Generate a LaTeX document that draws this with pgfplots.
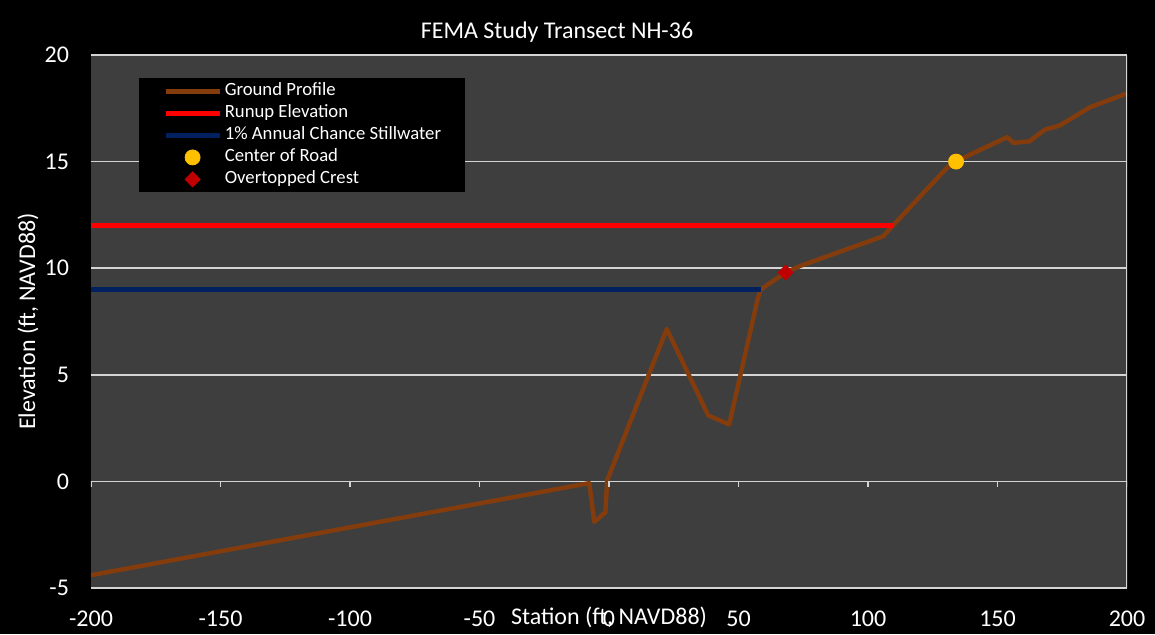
\documentclass[border=0pt]{standalone}
\usepackage{pgfplots}
\pgfplotsset{compat=1.18}
\usepackage{fontspec}
\setmainfont{Carlito}
\definecolor{ground}{HTML}{843C0C}
\definecolor{runup}{HTML}{FF0000}
\definecolor{still}{HTML}{002060}
\definecolor{road}{HTML}{FFC000}
\definecolor{crest}{HTML}{C00000}
\definecolor{plotbg}{HTML}{3E3E3E}
\definecolor{gridc}{HTML}{D4D4D4}
\begin{document}
\begin{tikzpicture}
\fill[black] (-45.5pt,-23pt) rectangle (532pt,294pt);
\begin{axis}[
  at={(0pt,0pt)}, anchor=south west,
  scale only axis, width=518pt, height=266.5pt,
  xmin=-200, xmax=200, ymin=-5, ymax=20,
  xtick={-200,-150,...,200}, ytick={-5,0,...,20},
  axis line style={draw=none},
  tick style={draw=none},
  axis background/.style={fill=plotbg},
  ymajorgrids, grid style={gridc, line width=0.75pt},
  /pgf/number format/assume math mode=true,
  ticklabel style={font=\fontsize{12}{14}\selectfont, text=white},
  xticklabel style={yshift=-8pt},
  yticklabel style={xshift=-7.5pt},
  title={FEMA Study Transect NH-36},
  title style={font=\fontsize{12}{14}\selectfont, text=white, at={(0.5,1)}, anchor=south, inner sep=0pt, xshift=-26pt},
  xlabel={Station (ft, NAVD88)},
  xlabel style={font=\fontsize{12}{14}\selectfont, text=white, at={(axis description cs:0.5,0)}, anchor=center, yshift=-14.5pt},
  ylabel={Elevation (ft, NAVD88)},
  ylabel style={font=\fontsize{12}{14}\selectfont, text=white, at={(axis description cs:0,0.5)}, anchor=center, yshift=31.5pt},
  legend style={at={(rel axis cs:0,1)}, anchor=north west, xshift=24pt, yshift=-11.5pt,
    fill=black, draw=none, text=white, font=\fontsize{9.35}{11}\selectfont,
    inner xsep=12pt, inner ysep=1pt,
    nodes={inner sep=0pt, text height=7.5pt, text depth=3.5pt},
    /tikz/every odd column/.append style={column sep=1.5pt}},
  legend cell align=left,
  legend image code/.code={\draw[mark repeat=2,mark phase=2,#1] plot coordinates {(0pt,0pt) (13.5pt,0pt) (27pt,0pt)};},
]
\addplot[ground, line width=2.2pt, line join=round] coordinates {
(-200,-4.4) (-7.6,-0.08) (-5.7,-1.9) (-1.4,-1.45) (-0.7,0.05) (22.3,7.15)
(38.3,3.1) (46.4,2.67) (57.3,8.5) (58.5,9.0) (68.2,9.8) (73.7,10.1)
(105.9,11.5) (109.6,12.0) (130.4,14.7) (134,15.0) (140.7,15.4) (153.8,16.15)
(156.1,15.88) (162.3,15.95) (168.3,16.5) (174.1,16.7) (185.7,17.55) (200,18.2)
};
\addlegendentry{Ground Profile}
\addplot[runup, line width=2.2pt] coordinates {(-200,12) (109.6,12)};
\addlegendentry{Runup Elevation}
\addplot[still, line width=2.2pt] coordinates {(-200,9) (58.8,9)};
\addlegendentry{1\% Annual Chance Stillwater}
\addplot[only marks, mark=*, mark size=3.75pt, mark options={fill=road, draw=road}] coordinates {(134,15)};
\addlegendentry{Center of Road}
\addplot[only marks, mark=square*, mark size=2.65pt, mark options={fill=crest, draw=crest, rotate=45}] coordinates {(68.2,9.8)};
\addlegendentry{Overtopped Crest}
\draw[gridc, line width=0.75pt] (rel axis cs:1,0) -- (rel axis cs:1,1);
\pgfplotsinvokeforeach{-200,-150,-100,-50,0,50,100,150,200}{
  \draw[gridc, line width=0.75pt] (axis cs:#1,0) -- ++(0pt,-3pt);
}
\end{axis}
\pgfresetboundingbox
\useasboundingbox (-45.5pt,-23pt) rectangle (532pt,294pt);
\end{tikzpicture}
\end{document}
